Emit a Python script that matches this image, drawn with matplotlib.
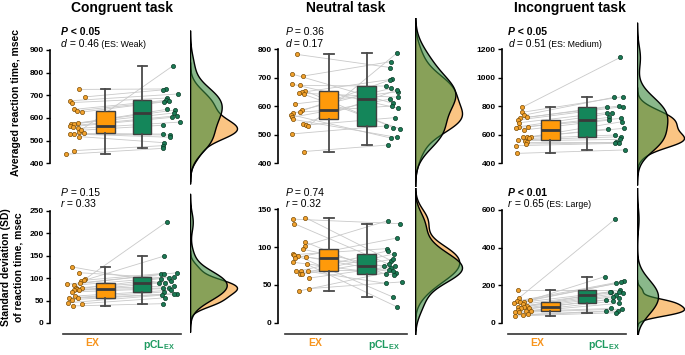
import numpy as np
import matplotlib
matplotlib.use("Agg")
import matplotlib.pyplot as plt
from matplotlib.colors import to_rgba

plt.rcParams['font.family'] = ['Liberation Sans', 'DejaVu Sans']
plt.rcParams['mathtext.fontset'] = 'custom'
plt.rcParams['mathtext.rm'] = 'Liberation Sans'
plt.rcParams['mathtext.it'] = 'Liberation Sans:italic'
plt.rcParams['mathtext.bf'] = 'Liberation Sans:bold'

# ---------------- data (subject-paired: EX[i] <-> pCL_EX[i]) ----------------
titles = ["Congruent task", "Neutral task", "Incongruent task"]
group_labels = ["EX", "pCL$_{\\mathbf{EX}}$"]
ylabel_top = "Averaged reaction time, msec"
ylabel_bottom = "Standard deviation (SD)\nof reaction time, msec"

cong_rt_ex  = [540, 726, 693, 676, 668, 638, 632, 626, 576, 574, 574, 565, 562, 554, 546, 532, 529, 529, 518, 456, 440]
cong_rt_pcl = [831, 728, 724, 706, 688, 678, 675, 671, 638, 635, 622, 610, 603, 582, 568, 529, 525, 515, 491, 478, 466]
cong_rt_ex_x  = [0.28, 0.29, 0.45, 0.05, 0.10, 0.15, 0.23, 0.36, 0.25, 0.07, 0.15, 0.04, 0.12, 0.25, 0.35, 0.41, 0.04, 0.15, 0.29, 0.16, -0.07]
cong_rt_pcl_x = [2.84, 2.65, 2.56, 2.98, 2.68, 2.65, 2.73, 2.59, 2.66, 2.89, 2.86, 2.95, 2.82, 3.02, 2.55, 2.56, 2.75, 2.75, 2.59, 2.56, 2.55]

neut_rt_ex  = [782, 713, 706, 678, 673, 655, 649, 646, 642, 608, 587, 581, 578, 570, 561, 554, 538, 534, 529, 503, 441]
neut_rt_pcl = [736, 610, 757, 593, 671, 525, 695, 632, 520, 651, 663, 692, 601, 488, 625, 491, 657, 560, 788, 531, 464]
neut_rt_ex_x  = [0.17, 0.04, 0.32, 0.03, 0.23, 0.36, 0.28, 0.21, 0.34, 0.10, 0.28, 0.23, 0.06, 0.01, 0.03, 0.06, 0.32, 0.41, 0.45, 0.04, 0.34]
neut_rt_pcl_x = [2.62, 2.69, 2.64, 2.82, 2.51, 2.69, 2.66, 2.82, 2.88, 2.82, 2.64, 2.60, 2.66, 2.64, 2.60, 2.78, 2.78, 2.73, 2.80, 2.51, 2.56]

inc_rt_ex  = [793, 758, 739, 723, 716, 704, 685, 657, 657, 650, 634, 587, 582, 582, 575, 564, 559, 552, 536, 524, 470]
inc_rt_pcl = [1144, 868, 863, 802, 798, 798, 756, 751, 723, 716, 704, 692, 646, 641, 599, 587, 568, 552, 545, 540, 494]
inc_rt_ex_x  = [0.23, 0.23, 0.29, 0.35, 0.18, 0.12, 0.15, 0.14, 0.39, 0.05, 0.27, 0.47, 0.25, 0.36, 0.41, 0.11, 0.32, 0.35, 0.34, 0.07, 0.09]
inc_rt_pcl_x = [2.91, 2.98, 2.73, 2.86, 2.55, 2.98, 2.55, 2.68, 2.61, 2.94, 2.61, 2.95, 3.02, 2.56, 2.77, 2.94, 2.91, 2.79, 2.86, 2.77, 3.03]

cong_sd_ex  = [97, 93, 125, 112, 95, 88, 86, 84, 78, 77, 75, 73, 73, 69, 60, 56, 56, 52, 45, 43, 38]
cong_sd_pcl = [225, 149, 90, 100, 110, 109, 112, 103, 93, 99, 83, 90, 78, 77, 73, 69, 65, 65, 62, 56, 43]
cong_sd_ex_x  = [0.44, 0.35, 0.09, 0.29, 0.41, 0.32, -0.05, 0.16, 0.21, 0.36, 0.23, 0.29, 0.14, 0.09, 0.18, 0.02, 0.27, 0.09, 0.00, 0.36, 0.12]
cong_sd_pcl_x = [2.66, 2.59, 2.45, 2.73, 2.50, 2.59, 2.95, 2.86, 2.77, 2.50, 2.86, 2.62, 2.57, 2.73, 2.79, 2.59, 2.95, 2.86, 2.53, 2.61, 2.55]

neut_sd_ex  = [139, 137, 131, 107, 102, 97, 91, 90, 88, 87, 86, 80, 77, 69, 68, 68, 65, 64, 59, 45, 42]
neut_sd_pcl = [82, 131, 77, 64, 135, 72, 34, 98, 75, 66, 112, 63, 21, 95, 70, 52, 91, 84, 75, 54, 68]
neut_sd_ex_x  = [0.38, 0.05, 0.09, 0.36, 0.38, 0.33, 0.05, 0.09, 0.18, 0.40, 0.12, 0.05, 0.43, 0.27, 0.14, 0.44, 0.25, 0.29, 0.48, 0.47, 0.22]
neut_sd_pcl_x = [2.64, 2.87, 2.59, 2.49, 2.55, 2.64, 2.68, 2.52, 2.46, 2.77, 2.79, 2.72, 2.79, 2.55, 2.59, 2.50, 2.72, 2.68, 2.74, 2.93, 2.68]

inc_sd_ex  = [133, 174, 121, 115, 112, 112, 103, 98, 89, 85, 85, 76, 76, 67, 62, 62, 59, 55, 44, 41, 36]
inc_sd_pcl = [552, 174, 245, 222, 215, 209, 165, 165, 165, 160, 147, 138, 130, 121, 115, 103, 76, 73, 62, 62, 53]
inc_sd_ex_x  = [0.15, 0.13, 0.45, 0.09, 0.29, 0.18, 0.00, 0.24, 0.36, 0.11, 0.29, 0.20, 0.42, 0.11, 0.33, 0.48, 0.04, 0.15, 0.38, 0.24, 0.04]
inc_sd_pcl_x = [2.77, 2.91, 2.48, 3.02, 2.93, 2.80, 2.66, 2.87, 2.62, 2.98, 2.80, 2.71, 2.87, 2.53, 2.71, 2.86, 2.66, 2.96, 2.53, 2.84, 2.78]

stats_p = [("P", " < 0.05", True), ("P", " = 0.36", False), ("P", " < 0.05", True),
           ("P", " = 0.15", False), ("P", " = 0.74", False), ("P", " < 0.01", True)]
stats_es = [("d", " = 0.46", "(ES: Weak)"), ("d", " = 0.17", None), ("d", " = 0.51", "(ES: Medium)"),
            ("r", " = 0.33", None), ("r", " = 0.32", None), ("r", " = 0.65", "(ES: Large)")]

yticks = [list(range(400, 901, 100)), list(range(400, 801, 100)), list(range(400, 1201, 200)),
          list(range(0, 251, 50)), list(range(0, 151, 50)), list(range(0, 601, 200))]

panels = [
    (cong_rt_ex, cong_rt_pcl, cong_rt_ex_x, cong_rt_pcl_x),
    (neut_rt_ex, neut_rt_pcl, neut_rt_ex_x, neut_rt_pcl_x),
    (inc_rt_ex, inc_rt_pcl, inc_rt_ex_x, inc_rt_pcl_x),
    (cong_sd_ex, cong_sd_pcl, cong_sd_ex_x, cong_sd_pcl_x),
    (neut_sd_ex, neut_sd_pcl, neut_sd_ex_x, neut_sd_pcl_x),
    (inc_sd_ex, inc_sd_pcl, inc_sd_ex_x, inc_sd_pcl_x),
]

# ---------------- layout / style ----------------
W, H = 685, 355
fig = plt.figure(figsize=(W / 100, H / 100), dpi=100)

ORANGE_BOX = '#FF9A0A'
GREEN_BOX = '#14865A'
ORANGE_DOT = '#F2A22E'
GREEN_DOT = '#1B7A55'
ORANGE_TXT = '#F7941D'
GREEN_TXT = '#1E9A60'
KDE_OR = to_rgba('#F7941D', 0.55)
KDE_GR = to_rgba('#3C8A3E', 0.6)

row_y = [(18, 186), (188, 334)]
col_main = [(50, 186.5, -0.5), (278, 412.5, -0.34), (502, 631, -0.32)]
col_kde = [(190, 240), (415, 465), (637, 685)]
ylims = [(300, 1041), (320, 910), (241, 1420), (-24.5, 300.6), (-15, 178.2), (-60, 717)]
text_x = [61, 285.5, 508.3]
text_y = [(35, 46.7), (195.7, 207.3)]


def px_axes(x0, y0, x1, y1, **kw):
    return fig.add_axes([x0 / W, 1 - y1 / H, (x1 - x0) / W, (y1 - y0) / H], **kw)


def fig_xy(x, y):
    return x / W, 1 - y / H


def rich(x, y, pieces):
    prev = fig.text(*fig_xy(x, y), pieces[0][0], va='baseline', ha='left', **pieces[0][1])
    for s, kw in pieces[1:]:
        prev = plt.annotate(s, xy=(1, 0), xycoords=prev, va='bottom', ha='left',
                            annotation_clip=False, **kw)
    return prev


def kde(v):
    v = np.asarray(v, float)
    bw = np.std(v, ddof=1) * len(v) ** (-0.2)
    grid = np.linspace(v.min() - 3 * bw, v.max() + 3 * bw, 300)
    d = np.exp(-0.5 * ((grid[:, None] - v[None, :]) / bw) ** 2).sum(1) / (len(v) * bw * np.sqrt(2 * np.pi))
    return grid, d


FS = 7.5
for k, (ex, pcl, exx, pclx) in enumerate(panels):
    r, c = divmod(k, 3)
    y0, y1 = row_y[r]
    x0, x1, xl = col_main[c]
    ax = px_axes(x0, y0, x1, y1)
    ax.set_facecolor('none')
    ax.set_xlim(xl, 3.2)
    ax.set_ylim(*ylims[k])

    for a, b, xa, xb in zip(ex, pcl, exx, pclx):
        ax.plot([xa, xb], [a, b], color='#c9c9c9', lw=0.6, zorder=1)

    bp = ax.boxplot([ex, pcl], positions=[1, 2], widths=0.5, patch_artist=True, showfliers=False,
                    medianprops=dict(color='#3a3a3a', lw=2.0),
                    boxprops=dict(edgecolor='#404040', lw=1.0),
                    whiskerprops=dict(color='#4a4a4a', lw=1.3),
                    capprops=dict(color='#4a4a4a', lw=1.3), zorder=3)
    bp['boxes'][0].set_facecolor(ORANGE_BOX)
    bp['boxes'][1].set_facecolor(GREEN_BOX)

    ax.scatter(exx, ex, s=9, color=ORANGE_DOT, edgecolors='#7a4c05', linewidths=0.5, zorder=4)
    ax.scatter(pclx, pcl, s=9, color=GREEN_DOT, edgecolors='#0b3a26', linewidths=0.5, zorder=4)

    for s in ['top', 'right']:
        ax.spines[s].set_visible(False)
    ax.spines['left'].set_bounds(yticks[k][0], yticks[k][-1])
    ax.spines['left'].set_linewidth(1.2)
    ax.set_yticks(yticks[k])
    ax.tick_params(axis='y', labelsize=6, width=1, length=3, pad=1.5)
    for t in ax.get_yticklabels():
        t.set_fontweight('bold')
    if r == 0:
        ax.spines['bottom'].set_visible(False)
        ax.set_xticks([])
    else:
        ax.spines['bottom'].set_bounds(-0.15, 3.05)
        ax.spines['bottom'].set_linewidth(1.2)
        ax.spines['bottom'].set_color('#333333')
        ax.set_xticks([0.65, 2.45])
        ax.set_xticklabels(group_labels, fontsize=FS, fontweight='bold')
        ax.tick_params(axis='x', length=0, pad=3)
        ax.get_xticklabels()[0].set_color(ORANGE_TXT)
        ax.get_xticklabels()[1].set_color(GREEN_TXT)

    # KDE half-violins
    kx0, kx1 = col_kde[c]
    kax = px_axes(kx0, y0, kx1, y1, sharey=ax)
    kax.set_facecolor('none')
    go, do = kde(ex)
    gg, dg = kde(pcl)
    kax.fill_betweenx(go, 0, do, facecolor=KDE_OR, edgecolor='black', lw=1.0)
    kax.fill_betweenx(gg, 0, dg, facecolor=KDE_GR, edgecolor='black', lw=1.0)
    m = max(do.max(), dg.max())
    kax.set_xlim(0, m * (kx1 - kx0) / 47)
    kax.axis('off')

    # stats text
    letter, val, bold = stats_p[k]
    w = 'bold' if bold else 'normal'
    tx = text_x[c]
    ty1, ty2 = text_y[r]
    rich(tx, ty1, [(letter, dict(fontsize=FS, fontstyle='italic', fontweight=w)),
                   (val, dict(fontsize=FS, fontweight=w))])
    el, ev, es = stats_es[k]
    pieces = [(el, dict(fontsize=FS, fontstyle='italic')), (ev, dict(fontsize=FS))]
    if es:
        pieces.append((" " + es, dict(fontsize=6.3)))
    rich(tx, ty2, pieces)

for i, t in enumerate(titles):
    fig.text(*fig_xy([122, 346, 570][i], 11.7), t, fontsize=10, fontweight='bold', ha='center', va='baseline')

fig.text(*fig_xy(16, 102), ylabel_top, rotation=90, fontsize=FS, fontweight='bold', ha='center', va='center')
fig.text(*fig_xy(12.5, 267), ylabel_bottom, rotation=90, fontsize=FS, fontweight='bold',
         ha='center', va='center', multialignment='center', linespacing=1.3)

fig.savefig('out.png', dpi=100)
